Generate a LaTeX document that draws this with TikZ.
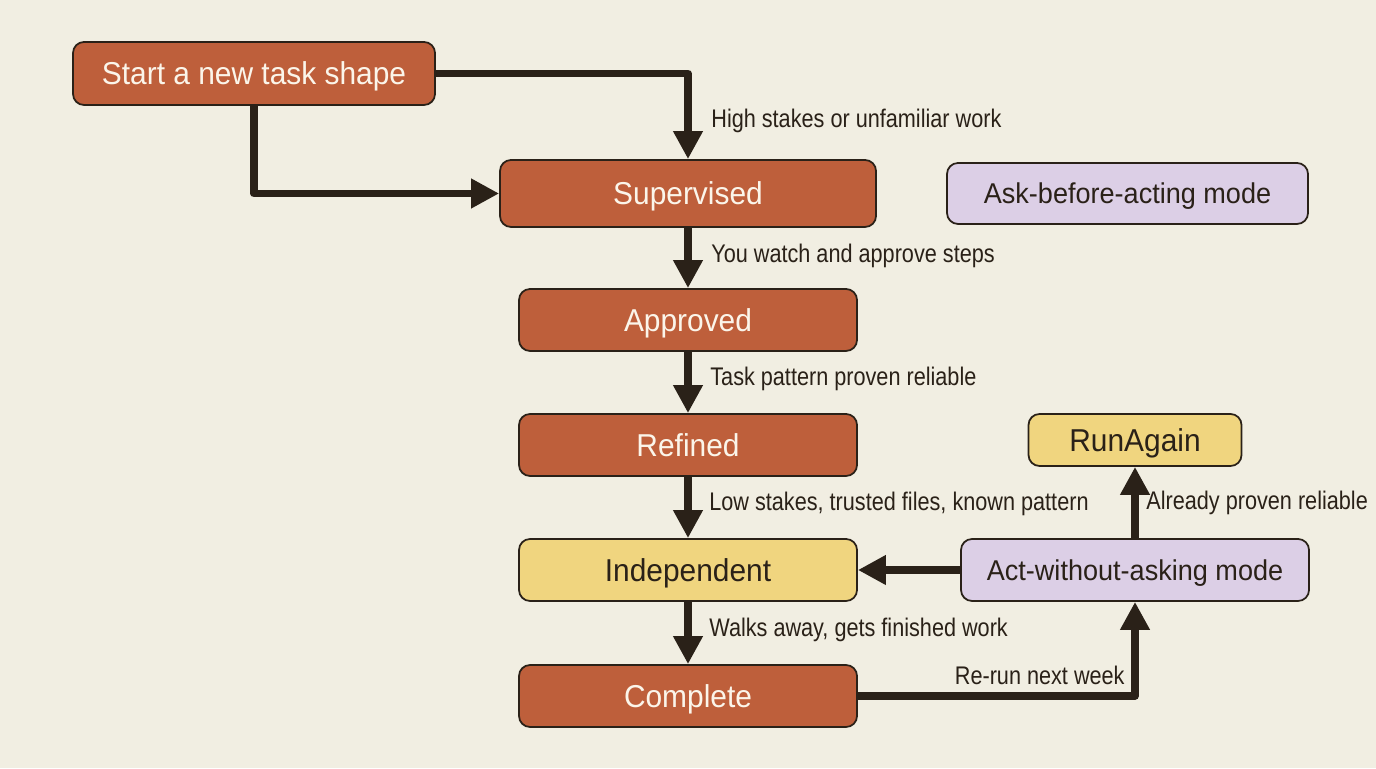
\documentclass[tikz,border=0pt]{standalone}
\usepackage{fontspec}
\setmainfont[FakeStretch=0.945]{Liberation Sans}
\newfontfamily\notefont[FakeStretch=0.85]{Liberation Sans}
\usetikzlibrary{arrows.meta}
\definecolor{paper}{HTML}{F1EEE2}
\definecolor{ink}{HTML}{2A2118}
\definecolor{rust}{HTML}{BE5F3B}
\definecolor{sand}{HTML}{F0D57F}
\definecolor{lilac}{HTML}{DCCFE6}
\definecolor{cream}{HTML}{FBF5EA}
\begin{document}
\begin{tikzpicture}[
       etat/.style={
         rectangle,
         rounded corners=0.22cm,
         draw=ink,
         line width=1pt,
         inner sep=0pt,
         text height=0.46cm,
         text depth=0cm,
         font=\fontsize{18}{20}\selectfont
       },
       rouille/.style={etat,fill=rust,text=cream},
       sable/.style={etat,fill=sand,text=ink},
       mauve/.style={etat,fill=lilac,text=ink,text height=0.41cm,font=\fontsize{16.3}{20}\selectfont},
       note/.style={
         anchor=west,
         inner sep=0pt,
         text=ink,
         font=\notefont\fontsize{14.5}{16}\selectfont
       },
       flow/.style={
         draw=ink,
         line width=4.2pt,
         line join=round,
         -{Triangle[length=0.56cm,width=0.56cm]}
       }
     ]

       \fill[paper] (0,0) rectangle (27.52,15.36);
       \useasboundingbox (0,0) rectangle (27.52,15.36);

       \node (start) at (5.08,13.89) [rouille,minimum width=7.24cm,minimum height=1.26cm]{Start a new task shape};
       \node (supervised) at (13.76,11.49) [rouille,minimum width=7.52cm,minimum height=1.34cm]{Supervised};
       \node (approved) at (13.76,8.96) [rouille,minimum width=6.76cm,minimum height=1.24cm]{Approved};
       \node (refined) at (13.76,6.46) [rouille,minimum width=6.76cm,minimum height=1.24cm]{Refined};
       \node (independent) at (13.76,3.96) [sable,minimum width=6.76cm,minimum height=1.24cm]{Independent};
       \node (complete) at (13.76,1.44) [rouille,minimum width=6.76cm,minimum height=1.24cm]{Complete};

       \node (ask) at (22.55,11.49) [mauve,minimum width=7.22cm,minimum height=1.22cm]{Ask-before-acting mode};
       \node (act) at (22.70,3.96) [mauve,minimum width=6.96cm,minimum height=1.24cm]{Act-without-asking mode};
       \node (again) at (22.70,6.56) [sable,minimum width=4.26cm,minimum height=1.04cm]{RunAgain};

       \node (n1) at (14.22,12.94) [note]{High stakes or unfamiliar work};
       \node (n2) at (14.22,10.24) [note]{You watch and approve steps};
       \node (n3) at (14.20,7.78) [note]{Task pattern proven reliable};
       \node (n4) at (14.18,5.28) [note]{Low stakes, trusted files, known pattern};
       \node (n5) at (14.18,2.76) [note]{Walks away, gets finished work};
       \node (n6) at (19.09,1.86) [note]{Re-run next week};
       \node (n7) at (22.92,5.30) [note]{Already proven reliable};

       \draw[flow] (start.east) -| (supervised.north);
       \draw[flow] (start.south) |- (supervised.west);
       \draw[flow] (supervised) -- (approved);
       \draw[flow] (approved) -- (refined);
       \draw[flow] (refined) -- (independent);
       \draw[flow] (independent) -- (complete);
       \draw[flow] (complete.east) -| (act.south);
       \draw[flow] (act) -- (independent);
       \draw[flow] (act) -- (again);

\end{tikzpicture}
\end{document}
